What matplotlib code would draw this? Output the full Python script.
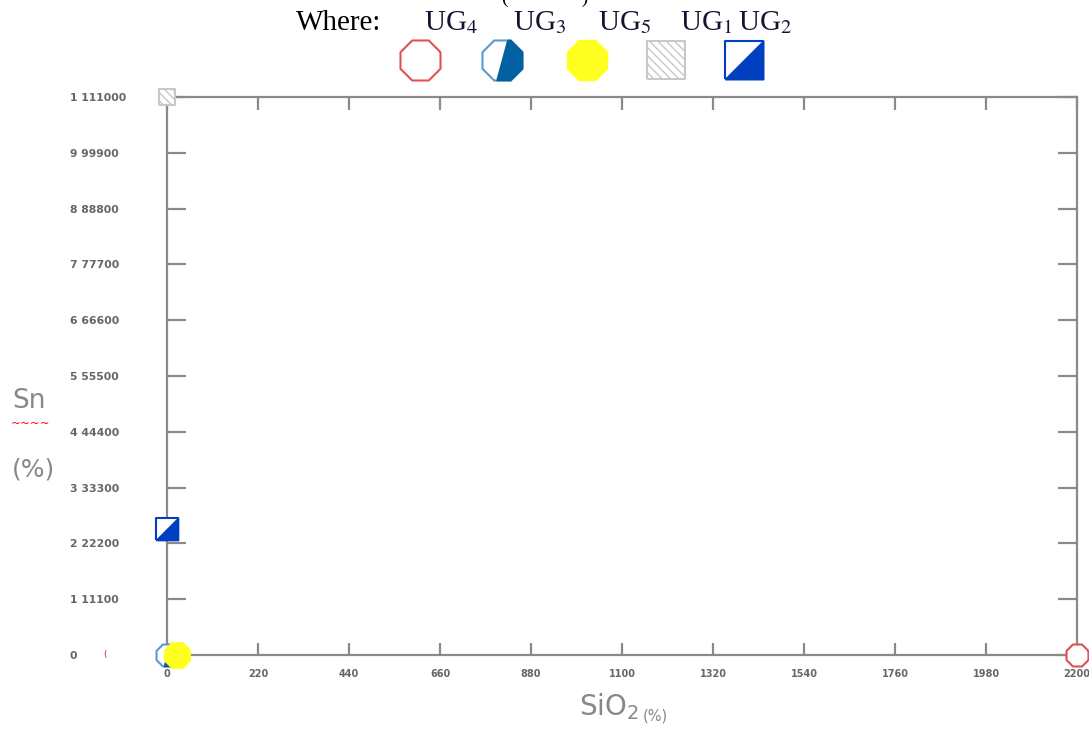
import numpy as np
import matplotlib.pyplot as plt

# data
groups = ["UG4", "UG3", "UG5", "UG1", "UG2"]
sio2 = [2200, 0, 24, 0, 0]
sn = [0, 0, 0, 1111000, 250000]

xticks = [0, 220, 440, 660, 880, 1100, 1320, 1540, 1760, 1980, 2200]
yticks = [0, 111100, 222200, 333300, 444400, 555500, 666600, 777700, 888800, 999900, 1111000]
ylabels = ["0", "1 11100", "2 22200", "3 33300", "4 44400", "5 55500",
           "6 66600", "7 77700", "8 88800", "9 99900", "1 111000"]

# marker shapes (closed)
octagon = [(0.924, 0.383), (0.383, 0.924), (-0.383, 0.924), (-0.924, 0.383),
           (-0.924, -0.383), (-0.383, -0.924), (0.383, -0.924), (0.924, -0.383),
           (0.924, 0.383)]
oct_half = [(0.25, 0.924), (0.383, 0.924), (0.924, 0.383), (0.924, -0.383),
            (0.383, -0.924), (-0.25, -0.924), (0.25, 0.924)]
square = [(-1, -1), (1, -1), (1, 1), (-1, 1), (-1, -1)]
tri = [(-1, -1), (1, -1), (1, 1), (-1, -1)]

red = "#e05050"
blue3 = "#0060a0"
blue3e = "#5a9ad0"
blue2 = "#0040c0"
grey = "#c8c8c8"


def draw_marker(ax, name, x, y, s, **kw):
    if name == "UG4":
        ax.scatter(x, y, s=s, marker=octagon, facecolor="white", edgecolor=red, linewidth=1.5, **kw)
    elif name == "UG3":
        ax.scatter(x, y, s=s, marker=octagon, facecolor="white", edgecolor=blue3e, linewidth=1.5, **kw)
        ax.scatter(x, y, s=s, marker=oct_half, facecolor=blue3, edgecolor=blue3, linewidth=1.2, **kw)
    elif name == "UG5":
        ax.scatter(x, y, s=s, marker=octagon, facecolor="#ffff20", edgecolor="#ffff20", linewidth=1, **kw)
    elif name == "UG1":
        ax.scatter(x, y, s=s, marker=square, facecolor="white", edgecolor=grey, hatch="\\\\\\\\", linewidth=1.5, **kw)
    elif name == "UG2":
        ax.scatter(x, y, s=s, marker=square, facecolor="white", edgecolor=blue2, linewidth=1.5, **kw)
        ax.scatter(x, y, s=s, marker=tri, facecolor=blue2, edgecolor=blue2, linewidth=1.2, **kw)


fig = plt.figure(figsize=(10.89, 7.29), dpi=100)
ax = fig.add_axes([167 / 1089, 1 - 655 / 729, 910 / 1089, 558 / 729])

sizes = {"UG4": 250, "UG3": 250, "UG5": 340, "UG1": 130, "UG2": 250}
for g, x, y in zip(groups, sio2, sn):
    draw_marker(ax, g, x, y, sizes[g], clip_on=False, zorder=5)

ax.set_xlim(0, 2200)
ax.set_ylim(0, 1111000)
ax.set_xticks(xticks)
ax.set_xticklabels([str(v) for v in xticks])
ax.set_yticks(yticks)
ax.set_yticklabels(ylabels)

for s in ax.spines.values():
    s.set_color("#8a8a8a")
    s.set_linewidth(1.6)

ax.tick_params(axis="x", direction="in", length=9, width=1.6, color="#8a8a8a",
               top=True, labelsize=7, labelcolor="#666666", pad=10)
ax.tick_params(axis="y", direction="in", length=14, width=1.6, color="#8a8a8a",
               right=True, labelsize=7.8, labelcolor="#666666", pad=70)
for lab in ax.get_yticklabels():
    lab.set_horizontalalignment("left")
for lab in ax.get_xticklabels() + ax.get_yticklabels():
    lab.set_fontweight("bold")

# axis labels
fig.text(29 / 1089, 1 - 401 / 729, "Sn", fontsize=19, color="#888888", ha="center", va="center")
fig.text(33 / 1089, 1 - 470 / 729, "(%)", fontsize=18, color="#888888", ha="center", va="center")
fig.text(11 / 1089, 1 - 423 / 729, "~~~~", fontsize=8.5, color="red", ha="left", va="center")
fig.text(609 / 1089, 1 - 707 / 729, r"SiO$_2$", fontsize=20, color="#888888", ha="center", va="center")
fig.text(643 / 1089, 1 - 716 / 729, "(%)", fontsize=10.5, color="#888888", ha="left", va="center")
fig.text(105 / 1089, 1 - 655 / 729, "(", fontsize=6, color="red", ha="center", va="center")

# legend at top
fig.text(545 / 1089, 1 - (-2) / 729, "(               )", fontsize=14, color="black",
         family="Liberation Serif", ha="center", va="center")
fig.text(339 / 1089, 1 - 23 / 729, "Where:", fontsize=21, family="Liberation Serif", ha="center", va="center")
leg = fig.add_axes([0, 0, 1, 1], facecolor="none")
leg.set_xlim(0, 1089)
leg.set_ylim(729, 0)
leg.axis("off")
label_x = [451, 540, 625, 706, 765]
marker_x = [420, 502, 587, 666, 744]
for g, lx, mx in zip(groups, label_x, marker_x):
    fig.text(lx / 1089, 1 - 23 / 729, "UG$_{%s}$" % g[2], fontsize=21, family="Liberation Serif",
             color="#1a1030", ha="center", va="center", math_fontfamily="stix")
    draw_marker(leg, g, mx, 60, 760 if g in ("UG1", "UG2") else 830)

fig.savefig("out.png", dpi=100)
